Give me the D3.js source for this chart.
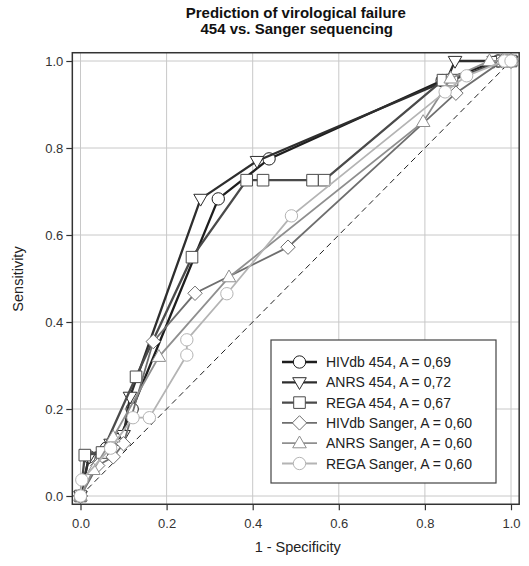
<!DOCTYPE html>
<html><head><meta charset="utf-8">
<script src="https://cdn.jsdelivr.net/npm/d3@7"></script>
<style>body{margin:0;background:#fff;} svg{display:block;font-family:"Liberation Sans",Arial,sans-serif;}</style>
</head><body>
<script>
const titleLines = ["Prediction of virological failure", "454 vs. Sanger sequencing"];
const xLabel = "1 - Specificity";
const yLabel = "Sensitivity";
const tickValues = [0, 0.2, 0.4, 0.6, 0.8, 1.0];
const tickLabels = ["0.0", "0.2", "0.4", "0.6", "0.8", "1.0"];

const seriesNames = ["HIVdb 454, A = 0,69", "ANRS 454, A = 0,72", "REGA 454, A = 0,67",
  "HIVdb Sanger, A = 0,60", "ANRS Sanger, A = 0,60", "REGA Sanger, A = 0,60"];
const seriesShapes = ["circle", "triangleDown", "square", "diamond", "triangleUp", "circle"];
const seriesColors = ["#1e1e1e", "#2e2e2e", "#4a4a4a", "#6e6e6e", "#8f8f8f", "#b4b4b4"];

const hivdb454 = [[0,0],[0.02,0.09],[0.06,0.11],[0.09,0.13],[0.12,0.2],[0.32,0.683],[0.438,0.775],[0.84,0.955],[0.97,1.0],[1,1]];
const anrs454 = [[0,0],[0.02,0.09],[0.07,0.12],[0.1,0.14],[0.115,0.228],[0.279,0.683],[0.41,0.77],[0.85,0.955],[0.87,1.0],[0.96,1.0],[1,1]];
const rega454 = [[0,0],[0.01,0.094],[0.05,0.1],[0.129,0.274],[0.259,0.549],[0.386,0.726],[0.424,0.726],[0.539,0.726],[0.566,0.726],[0.842,0.956],[0.863,0.956],[0.98,1.0],[1,1]];
const hivdbSanger = [[0,0],[0.04,0.07],[0.076,0.09],[0.1,0.12],[0.169,0.355],[0.266,0.466],[0.482,0.572],[0.872,0.926],[0.98,1.0],[1,1]];
const anrsSanger = [[0,0],[0.03,0.06],[0.076,0.135],[0.182,0.32],[0.345,0.503],[0.796,0.86],[0.86,0.96],[0.95,1.0],[1,1]];
const regaSanger = [[0,0],[0.003,0.037],[0.07,0.11],[0.122,0.18],[0.16,0.18],[0.247,0.324],[0.247,0.359],[0.34,0.465],[0.49,0.644],[0.847,0.929],[0.897,0.966],[0.985,1.0],[1,1]];
const allSeries = [hivdb454, anrs454, rega454, hivdbSanger, anrsSanger, regaSanger];

const W = 529, H = 566;
const svg = d3.select("body").append("svg").attr("width", W).attr("height", H);
const x = d3.scaleLinear().domain([0, 1]).range([80.5, 511]);
const y = d3.scaleLinear().domain([0, 1]).range([496, 61]);
const pad = 0.019;
const bx0 = x(-pad), bx1 = x(1 + pad), by0 = y(1 + pad), by1 = y(-pad);

// grid
const grid = svg.append("g");
tickValues.forEach(t => {
  grid.append("line").attr("x1", x(t)).attr("x2", x(t)).attr("y1", by0).attr("y2", by1)
    .attr("stroke", "#c8c8c8").attr("stroke-width", 1);
  grid.append("line").attr("y1", y(t)).attr("y2", y(t)).attr("x1", bx0).attr("x2", bx1)
    .attr("stroke", "#c8c8c8").attr("stroke-width", 1);
});

// axes
const xAxis = d3.axisBottom(x).tickValues(tickValues).tickFormat((d, i) => tickLabels[i]).tickSize(6).tickSizeOuter(0);
const gx = svg.append("g").attr("transform", `translate(0,${by1})`).call(xAxis);
const yAxis = d3.axisLeft(y).tickValues(tickValues).tickFormat((d, i) => tickLabels[i]).tickSize(6).tickSizeOuter(0);
const gy = svg.append("g").attr("transform", `translate(${bx0},0)`).call(yAxis);
[gx, gy].forEach(g => {
  g.select(".domain").remove();
  g.selectAll(".tick line").attr("stroke", "#333").attr("stroke-width", 1.2);
  g.selectAll(".tick text").attr("fill", "#333").style("font-size", "13px").style("font-family", '"Liberation Sans",Arial,sans-serif');
});
gx.selectAll(".tick text").attr("dy", "1.1em");
gy.selectAll(".tick text").attr("x", -9);

// diagonal
svg.append("line").attr("x1", x(0)).attr("y1", y(0)).attr("x2", x(1)).attr("y2", y(1))
  .attr("stroke", "#222").attr("stroke-width", 1).attr("stroke-dasharray", "6,4");

function shapePath(shape) {
  switch (shape) {
    case "circle": return d3.symbol(d3.symbolCircle, 120)();
    case "square": return "M-5.8,-5.8H5.8V5.8H-5.8Z";
    case "diamond": return "M0,-7.2L7.2,0L0,7.2L-7.2,0Z";
    case "triangleUp": return "M0,-7.2L6.8,4.6L-6.8,4.6Z";
    case "triangleDown": return "M0,7.2L6.8,-4.6L-6.8,-4.6Z";
  }
}

const line = d3.line().x(d => x(d[0])).y(d => y(d[1]));
allSeries.forEach((data, i) => {
  const g = svg.append("g");
  g.append("path").attr("d", line(data)).attr("fill", "none")
    .attr("stroke", seriesColors[i]).attr("stroke-width", i < 3 ? 2.3 : 1.8);
  g.selectAll("path.pt").data(data).enter().append("path").attr("class", "pt")
    .attr("d", shapePath(seriesShapes[i]))
    .attr("transform", d => `translate(${x(d[0])},${y(d[1])})`)
    .attr("fill", "#fff").attr("stroke", seriesColors[i]).attr("stroke-width", 1);
});

// box
svg.append("rect").attr("x", bx0).attr("y", by0).attr("width", bx1 - bx0).attr("height", by1 - by0)
  .attr("fill", "none").attr("stroke", "#333").attr("stroke-width", 1.5);

// legend
const lg = svg.append("g");
lg.append("rect").attr("x", 271).attr("y", 340).attr("width", 225).attr("height", 143)
  .attr("fill", "#fff").attr("stroke", "#444").attr("stroke-width", 1.2);
seriesNames.forEach((name, i) => {
  const cy = 362 + i * 20.3;
  lg.append("line").attr("x1", 282).attr("x2", 317).attr("y1", cy).attr("y2", cy)
    .attr("stroke", seriesColors[i]).attr("stroke-width", i < 3 ? 2.3 : 1.8);
  lg.append("path").attr("d", shapePath(seriesShapes[i])).attr("transform", `translate(299.5,${cy})`)
    .attr("fill", "#fff").attr("stroke", seriesColors[i]).attr("stroke-width", 1);
  lg.append("text").attr("x", 326).attr("y", cy + 5).text(name)
    .attr("fill", "#222").style("font-size", "14px");
});

// titles
const cx = (bx0 + bx1) / 2;
svg.append("text").attr("x", cx).attr("y", 18).attr("text-anchor", "middle")
  .style("font-size", "15px").style("font-weight", "bold").attr("fill", "#111").text(titleLines[0]);
svg.append("text").attr("x", cx + 1).attr("y", 34).attr("text-anchor", "middle")
  .style("font-size", "15px").style("font-weight", "bold").attr("fill", "#111").text(titleLines[1]);
svg.append("text").attr("x", cx + 2).attr("y", 552).attr("text-anchor", "middle")
  .style("font-size", "14.5px").attr("fill", "#222").text(xLabel);
svg.append("text").attr("transform", `translate(23,279) rotate(-90)`).attr("text-anchor", "middle")
  .style("font-size", "14.5px").attr("fill", "#222").text(yLabel);
</script>
</body></html>
